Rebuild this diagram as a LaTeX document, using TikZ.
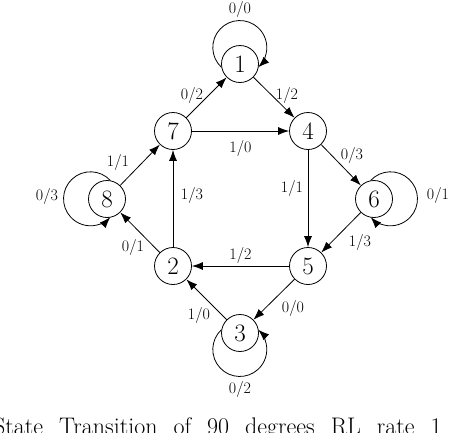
\documentclass[tikz,border=0pt]{standalone}
\usetikzlibrary{arrows.meta}
\begin{document}
\begin{tikzpicture}[x=1pt,y=-1pt,
  state/.style={circle,draw,line width=0.8pt,minimum size=37pt,inner sep=0pt,font=\fontsize{25}{25}\selectfont},
  tr/.style={line width=0.8pt,-{Latex[length=11pt,width=8pt]}},
  lbl/.style={font=\fontsize{16}{16}\selectfont,inner sep=0pt}]
\useasboundingbox (0,0) rectangle (474,432);
\clip (0,0) rectangle (474,432);
% states
\node[state] (n1) at (240,64) {1};
\node[state] (n7) at (173,131) {7};
\node[state] (n4) at (308,131) {4};
\node[state] (n8) at (107,199) {8};
\node[state] (n6) at (374,199) {6};
\node[state] (n2) at (173,266) {2};
\node[state] (n5) at (308,266) {5};
\node[state] (n3) at (240,333) {3};
% transitions
\draw[tr] (n7) -- node[lbl,xshift=-14.5pt,yshift=2.5pt] (l71) {0/2} (n1);
\draw[tr] (n1) -- node[lbl,xshift=13pt,yshift=2.5pt] (l14) {1/2} (n4);
\draw[tr] (n7) -- node[lbl,yshift=-17pt] (l74) {1/0} (n4);
\draw[tr] (n8) -- node[lbl,xshift=-22pt,yshift=3pt] (l87) {1/1} (n7);
\draw[tr] (n2) -- node[lbl,xshift=19pt,yshift=3.5pt] (l27) {1/3} (n7);
\draw[tr] (n2) -- node[lbl,xshift=-7pt,yshift=-14.5pt] (l28) {0/1} (n8);
\draw[tr] (n4) -- node[lbl,xshift=11pt,yshift=10pt] (l46) {0/3} (n6);
\draw[tr] (n4) -- node[lbl,xshift=-16pt,yshift=10.5pt] (l45) {1/1} (n5);
\draw[tr] (n6) -- node[lbl,xshift=19pt,yshift=-9.5pt] (l65) {1/3} (n5);
\draw[tr] (n5) -- node[lbl,yshift=11pt] (l52) {1/2} (n2);
\draw[tr] (n5) -- node[lbl,xshift=19pt,yshift=-8.5pt] (l53) {0/0} (n3);
\draw[tr] (n3) -- node[lbl,xshift=-7.5pt,yshift=-15.5pt] (l32) {1/0} (n2);
% self loops
\draw[tr] (n1.190) arc[start angle=227, end angle=-47, radius=27pt];
\draw[tr] (n8.80) arc[start angle=43, end angle=317, radius=27pt];
\draw[tr] (n6.100) arc[start angle=137, end angle=-137, radius=27pt];
\draw[tr] (n3.170) arc[start angle=133, end angle=407, radius=27pt];
\node[lbl] (l11) at (240,9) {0/0};
\node[lbl] (l88) at (47,196) {0/3};
\node[lbl] (l66) at (438,195) {0/1};
\node[lbl] (l33) at (240,389) {0/2};
% caption (cut off by the frame, as in the reference)
\node[anchor=base west,inner sep=0pt,font=\fontsize{24}{28}\selectfont] (cap) at (-7,434)
  {\spaceskip=16pt State Transition of 90 degrees RL rate 1};
\end{tikzpicture}
\end{document}
